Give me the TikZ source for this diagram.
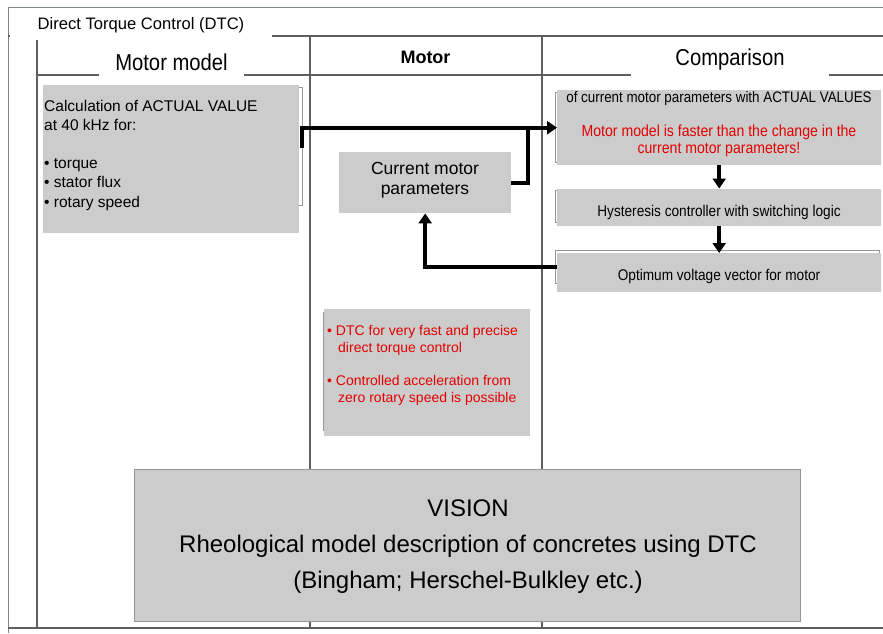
\documentclass[tikz,border=0pt]{standalone}
\usepackage{fontspec}
\setmainfont{Liberation Sans}
\newfontfamily\narrowsans{Liberation Sans}[FakeStretch=0.88]
\usetikzlibrary{arrows.meta}
\definecolor{boxgray}{RGB}{204,204,204}
\definecolor{rulegray}{RGB}{95,95,95}
\definecolor{outergray}{RGB}{125,135,135}
\definecolor{ghostgray}{RGB}{150,150,150}
\definecolor{alertred}{RGB}{228,0,0}
\tikzset{
  outer/.style={draw=outergray, line width=1pt},
  rule/.style={draw=rulegray, line width=1.5pt},
  panel/.style={fill=boxgray, draw=none, inner sep=0pt, anchor=north west},
  ghost/.style={draw=ghostgray, line width=0.8pt},
  labelbox/.style={fill=white, inner sep=0pt},
  plain/.style={inner sep=0pt},
  flow/.style={draw=black, line width=4pt, -{Triangle[width=13pt,length=10pt]}},
  pipe/.style={draw=black, line width=4pt},
}
\begin{document}
\begin{tikzpicture}[x=1pt,y=-1pt]
\useasboundingbox (0,0) rectangle (883,633);
\fill[white] (0,0) rectangle (883,633);

% frame and table rules
\draw[outer] (8,633) -- (8,7) -- (883,7);
\draw[rule] (8,36) -- (883,36);
\draw[rule] (8,628) -- (883,628);
\draw[rule] (37,36) -- (37,628);
\draw[rule] (310,36) -- (310,628);
\draw[rule] (542,36) -- (542,628);
\draw[rule, line width=2pt] (37,75) -- (883,75);

% title and column headings
\node[labelbox, minimum width=262, minimum height=30, font=\fontsize{16.6}{19}\selectfont] (title) at (141,25) {Direct Torque Control (DTC)};
\node[labelbox, minimum width=145, minimum height=32, font=\narrowsans\fontsize{23}{27}\selectfont] (mmlabel) at (171.5,62) {Motor model};
\node[plain, font=\bfseries\fontsize{18}{21}\selectfont] (motorhead) at (425.5,57) {Motor};
\node[labelbox, minimum width=198, minimum height=40, font=\narrowsans\fontsize{23}{27}\selectfont] (cmplabel) at (730,60) {Comparison};

% faint outlines behind the panels
\draw[ghost] (45,87) rectangle (302.5,205);
\draw[ghost] (555.5,92) rectangle (870,162);
\draw[ghost] (555.5,190) rectangle (870,222);
\draw[ghost] (555.5,250.7) rectangle (879,283);
\draw[ghost] (323.5,312) rectangle (520,430);

% motor model
\node[panel, minimum width=256, minimum height=148] (mm) at (43,85) {};
\node[plain, anchor=north west, align=left, font=\fontsize{15.5}{19.2}\selectfont] (mmtext) at (44,99.7)
  {Calculation of ACTUAL VALUE\\at 40 kHz for:\\[19.2pt]• torque\\• stator flux\\• rotary speed};

% comparison column
\node[panel, minimum width=324, minimum height=75] (cmp) at (557,90) {};
\node[plain, anchor=base, font=\narrowsans\fontsize{15.2}{18}\selectfont] (cmphead) at (719,102)
  {of current motor parameters with ACTUAL VALUES};
\node[plain, anchor=north, align=center, text=alertred, font=\narrowsans\fontsize{16}{17}\selectfont] (cmpnote) at (719,124.5)
  {Motor model is faster than the change in the\\current motor parameters!};

\node[panel, minimum width=324, minimum height=37] (hys) at (557,188.5) {};
\node[plain, anchor=base, font=\narrowsans\fontsize{15.5}{18}\selectfont] (hystext) at (719,216)
  {Hysteresis controller with switching logic};

\node[panel, minimum width=324, minimum height=39] (opt) at (557,253) {};
\node[plain, anchor=base, font=\narrowsans\fontsize{15.5}{18}\selectfont] (opttext) at (719,280)
  {Optimum voltage vector for motor};

% motor column
\node[panel, minimum width=172, minimum height=61] (cur) at (339,152) {};
\node[plain, anchor=north, align=center, font=\fontsize{17.5}{20}\selectfont] (curtext) at (425,162.5)
  {Current motor\\parameters};

\node[panel, minimum width=206, minimum height=127] (adv) at (324,309) {};
\node[plain, anchor=north west, align=left, text=alertred, font=\fontsize{14}{17}\selectfont] (advtext) at (327,324.8)
  {• DTC for very fast and precise\\\hspace*{11pt}direct torque control\\[16pt]• Controlled acceleration from\\\hspace*{11pt}zero rotary speed is possible};

% vision
\node[panel, draw=ghostgray, line width=0.8pt, minimum width=666, minimum height=152] (vis) at (134,469) {};
\node[plain, anchor=north, align=center, font=\fontsize{24}{36}\selectfont] (vistext) at (468,499.8)
  {VISION\\Rheological model description of concretes using DTC\\(Bingham; Herschel-Bulkley etc.)};

% signal flow
\coordinate (mmout) at (302,148);
\coordinate (merge) at (528,127.5);
\coordinate (optout) at (557,267);
\draw[flow] (mmout) |- (cmp.west);
\draw[pipe] (cur.east) -| (merge);
\draw[flow] (optout) -| (cur.south);
\draw[flow] (cmp.south) -- (hys.north);
\draw[flow] (hys.south) -- (opt.north);
\end{tikzpicture}
\end{document}
